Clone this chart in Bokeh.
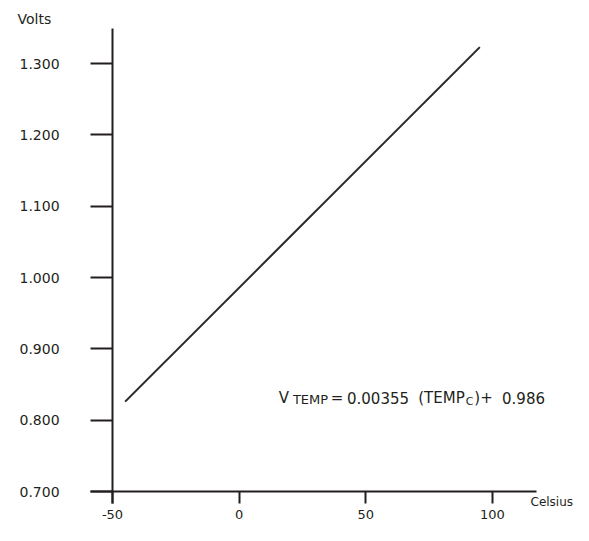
from bokeh.plotting import figure
from bokeh.models import Range1d, LinearAxis, FixedTicker, Label, NumeralTickFormatter
from bokeh.embed import file_html
from bokeh.resources import INLINE

# ---- data ----
temps = [-45, 95]
volts = [0.826, 1.323]
x_ticks = [-50, 0, 50, 100]
x_tick_labels = ["-50", "0", "50", "100"]
y_ticks = [0.7, 0.8, 0.9, 1.0, 1.1, 1.2, 1.3]
y_tick_labels = ["0.700", "0.800", "0.900", "1.000", "1.100", "1.200", "1.300"]

INK = "#231f20"
FONT = "DejaVu Sans"
W, H = 573, 525

# pixel scale of the reference: -50 at x=112, 100 at x=492; 0.700 at y=491, 1.300 at y=63
PX_PER_X = 380 / 150.0
PX_PER_Y = 428 / 0.6


def dx(px):
    return -50 + (px - 112) / PX_PER_X


def dy(py):
    return 0.7 + (491 - py) / PX_PER_Y


p = figure(width=W, height=H, output_backend="svg", toolbar_location=None,
           x_range=Range1d(dx(0), dx(W)), y_range=Range1d(dy(H), dy(0)),
           x_axis_type=None, y_axis_type=None,
           min_border_left=0, min_border_right=0, min_border_top=0, min_border_bottom=0,
           background_fill_color="white", border_fill_color="white")
p.outline_line_color = None

# vertical axis, fixed at -50 °C, ticks and labels pointing left
yaxis = LinearAxis(ticker=FixedTicker(ticks=y_ticks),
                   major_label_overrides=dict(zip(y_ticks, y_tick_labels)),
                   formatter=NumeralTickFormatter(format="0.000"),
                   fixed_location=-50, bounds=(dy(503), dy(28)),
                   axis_line_color=INK, axis_line_width=2,
                   minor_tick_line_color=None,
                   major_tick_in=22, major_tick_out=0,
                   major_tick_line_width=2, major_tick_line_color=INK,
                   major_label_standoff=-93, major_label_text_font=FONT,
                   major_label_text_font_size="14px", major_label_text_color=INK)
p.add_layout(yaxis, "right")

# horizontal axis, fixed at 0.700 V, ticks and labels pointing down
xaxis = LinearAxis(ticker=FixedTicker(ticks=x_ticks),
                   major_label_overrides=dict(zip(x_ticks, x_tick_labels)),
                   fixed_location=0.7, bounds=(dx(90), dx(536)),
                   axis_line_color=INK, axis_line_width=2,
                   minor_tick_line_color=None,
                   major_tick_in=12, major_tick_out=0,
                   major_tick_line_width=2, major_tick_line_color=INK,
                   major_label_standoff=-27, major_label_text_font=FONT,
                   major_label_text_font_size="13px", major_label_text_color=INK)
p.add_layout(xaxis, "above")

p.line(temps, volts, line_width=2, line_color="#262626")

p.add_layout(Label(x=dx(17), y=dy(18), text="Volts", text_font=FONT, text_font_size="14px",
                   text_color=INK, text_align="left", text_baseline="middle"))
p.add_layout(Label(x=dx(530), y=dy(501), text="Celsius", text_font=FONT, text_font_size="12px",
                   text_color=INK, text_align="left", text_baseline="middle"))

pieces = [
    ("V", 283.5, 397, "15px"),
    ("TEMP", 310, 399, "13px"),
    ("=", 336.5, 397, "15px"),
    ("0.00355", 377.5, 397, "15px"),
    ("(TEMP", 441, 397, "15px"),
    ("C", 469, 401, "11px"),
    (")+", 483, 397, "15px"),
    ("0.986", 523, 397, "15px"),
]
for txt, cx, by, fs in pieces:
    p.add_layout(Label(x=dx(cx), y=dy(by), text=txt, text_font=FONT, text_font_size=fs,
                       text_color=INK, text_align="center", text_baseline="alphabetic"))

open("out.html", "w").write(file_html(p, INLINE))
